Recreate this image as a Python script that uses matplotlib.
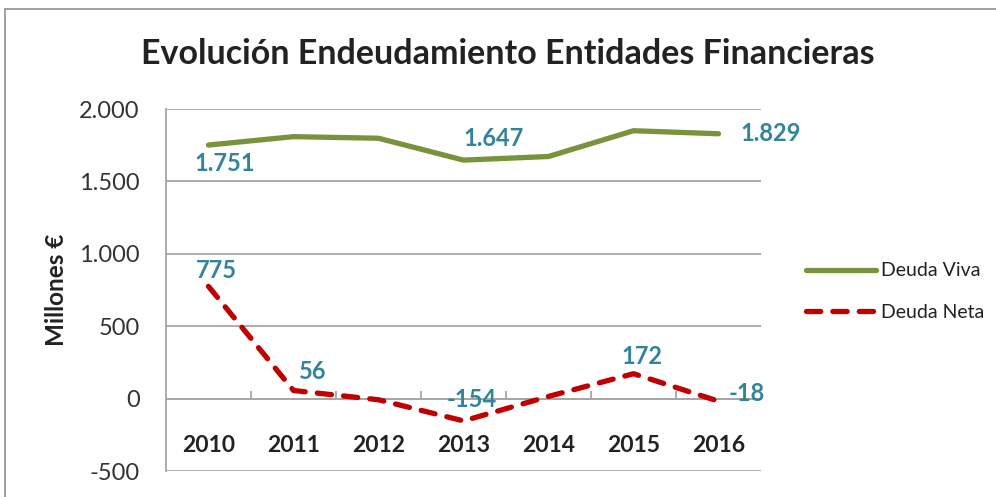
"""Evolución del endeudamiento de entidades financieras (Deuda Viva vs Deuda Neta)."""
import matplotlib
matplotlib.use("Agg")
import matplotlib.pyplot as plt
from matplotlib.patches import Rectangle
from matplotlib.ticker import FuncFormatter, FixedLocator

YEARS = ["2010", "2011", "2012", "2013", "2014", "2015", "2016"]
DEUDA_VIVA = [1751, 1809, 1798, 1647, 1672, 1850, 1829]
DEUDA_NETA = [775, 56, -8, -154, 15, 172, -18]

# which points carry a data label (index into YEARS)
VIVA_LABELED = [0, 3, 6]
NETA_LABELED = [0, 1, 3, 5, 6]

GREEN = "#77933C"
RED = "#C00000"
TEAL = "#31849B"
GRID = "#A6A6A6"
FONT = "Lato"

plt.rcParams["font.family"] = [FONT, "DejaVu Sans"]

# label offsets in points (dx, dy)
VIVA_OFFS = {0: (11.5, -13), 3: (21.6, 15.8), 6: (37.4, 0)}
NETA_OFFS = {0: (5.8, 11.5), 1: (13.7, 13.6), 3: (5.8, 15.1), 5: (5.8, 12.2), 6: (20, 5.5)}


def thousands(v, _pos):
    return f"{int(v):,}".replace(",", ".")


fig = plt.figure(figsize=(9.96, 4.97), dpi=100)
ax = fig.add_axes([166 / 996, 1 - 471 / 497, 595 / 996, 362 / 497])

x = list(range(len(YEARS)))
ax.plot(x, DEUDA_VIVA, color=GREEN, linewidth=3.8, solid_capstyle="round",
        label="Deuda Viva", zorder=3)
ax.plot(x, DEUDA_NETA, color=RED, linewidth=3.8, dashes=(2.7, 2.3),
        dash_capstyle="round", label="Deuda Neta", zorder=3)

for i in VIVA_LABELED:
    ax.annotate(thousands(DEUDA_VIVA[i], None), (x[i], DEUDA_VIVA[i]),
                xytext=VIVA_OFFS[i], textcoords="offset points",
                ha="center", va="center", color=TEAL, fontsize=17,
                fontweight="bold", zorder=4)
for i in NETA_LABELED:
    ax.annotate(thousands(DEUDA_NETA[i], None), (x[i], DEUDA_NETA[i]),
                xytext=NETA_OFFS[i], textcoords="offset points",
                ha="center", va="center", color=TEAL, fontsize=17,
                fontweight="bold", zorder=4)

ax.set_xlim(-0.5, len(YEARS) - 0.5)
ax.set_ylim(-500, 2000)
ax.set_yticks(range(-500, 2001, 500))
ax.yaxis.set_major_formatter(FuncFormatter(thousands))
ax.grid(axis="y", color=GRID, linewidth=1.3)
ax.set_axisbelow(True)

for side in ("top", "right"):
    ax.spines[side].set_visible(False)
ax.spines["left"].set_color(GRID)
ax.spines["left"].set_linewidth(1.3)
ax.spines["bottom"].set_position(("data", 0))
ax.spines["bottom"].set_color(GRID)
ax.spines["bottom"].set_linewidth(1.3)

ax.set_xticks(x)
ax.set_xticklabels(YEARS, fontsize=16.5, fontweight="bold", color="#222222")
ax.xaxis.set_minor_locator(FixedLocator([i + 0.5 for i in x[:-1]]))
ax.tick_params(axis="x", which="major", length=0, pad=26)
ax.tick_params(axis="x", which="minor", direction="in", length=5.5,
               color=GRID, width=1.3)
ax.tick_params(axis="y", length=0, pad=19, labelsize=17, labelcolor="#333333")

fig.text(57 / 996, 1 - 290 / 497, "Millones €", rotation=90, ha="center",
         va="center", fontsize=17.5, fontweight="bold", color="#222222")
fig.text(508 / 996, 1 - 64 / 497, "Evolución Endeudamiento Entidades Financieras",
         ha="center", va="baseline", fontsize=24.5, fontweight="bold", color="#222222")

fig.legend(loc="upper left", bbox_to_anchor=(788 / 996, 1 - 245 / 497),
           frameon=False, fontsize=14, handlelength=3.6, labelspacing=1.25,
           handletextpad=0.3, labelcolor="#222222")

# outer chart frame (extends beyond the image on right/bottom)
fig.patches.append(Rectangle((5 / 996, -0.1), 1.2, 1 - 9 / 497 + 0.1,
                             transform=fig.transFigure, fill=False,
                             edgecolor="#999999", linewidth=1.3))

fig.savefig("out.png", dpi=100)
